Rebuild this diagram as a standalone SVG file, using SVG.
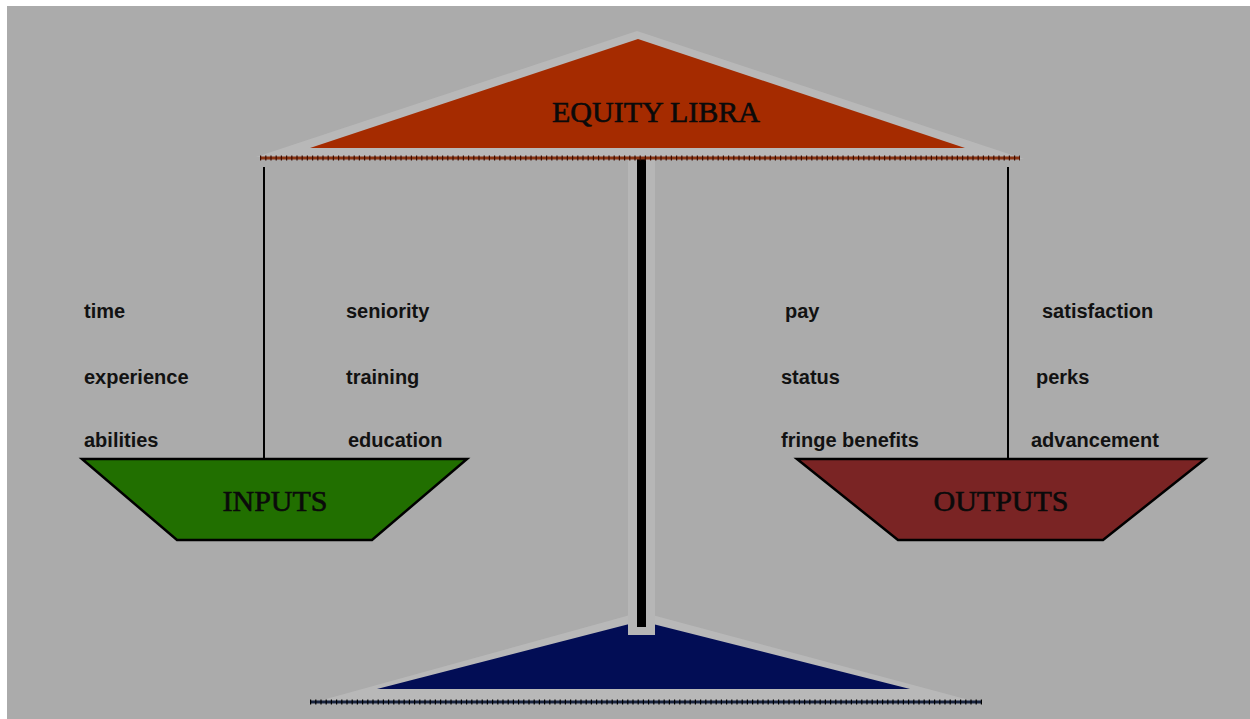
<svg xmlns="http://www.w3.org/2000/svg" width="1250" height="719" viewBox="0 0 1250 719">
  <style>
    .lbl { font-family: "Liberation Sans", Arial, sans-serif; font-weight: bold; font-size: 20px; fill: #121212; }
    .title { font-family: "Liberation Serif", "Times New Roman", serif; font-size: 30px; fill: #0a0a0a; stroke: #0a0a0a; stroke-width: 0.6; text-anchor: middle; }
    .halo { fill: #b8b8b8; }
    .hanger { stroke: #000; stroke-width: 2; }
    .pan { stroke: #000; stroke-width: 2.5; stroke-linejoin: miter; }
  </style>

  <!-- page -->
  <rect x="0" y="0" width="1250" height="719" fill="#ffffff"/>
  <rect x="7" y="6" width="1243" height="713" fill="#ababab"/>

  <!-- base of the scale -->
  <g id="base">
    <polygon class="halo" points="308,704 641,612 984,704"/>
    <polygon points="377,689 641,621 910,689" fill="#020d55"/>
    <line x1="310" y1="702" x2="982" y2="702" stroke="#1a2540" stroke-width="3"/>
    <line x1="310" y1="702" x2="982" y2="702" stroke="#000" stroke-width="5" stroke-dasharray="1.2 4"/>
  </g>

  <!-- central column -->
  <g id="column">
    <rect x="628" y="157" width="27" height="478" fill="#b6b6b6"/>
    <rect x="637" y="157" width="9" height="470" fill="#000"/>
  </g>

  <!-- top bar with title -->
  <g id="equity-libra">
    <polygon class="halo" points="637,31 256,157 1024,159"/>
    <polygon points="638,39 310,148 965,148" fill="#a52b00"/>
    <line x1="260" y1="158" x2="1020" y2="158" stroke="#8a3412" stroke-width="3"/>
    <line x1="260" y1="158" x2="1020" y2="158" stroke="#3c0c00" stroke-width="5" stroke-dasharray="1.2 4"/>
    <text class="title" x="656" y="122">EQUITY LIBRA</text>
  </g>

  <!-- hangers -->
  <g id="connectors">
    <line class="hanger" x1="264" y1="167" x2="264" y2="459"/>
    <line class="hanger" x1="1008" y1="167" x2="1008" y2="459"/>
  </g>

  <!-- left pan -->
  <g id="inputs">
    <polygon class="pan" points="82,459 467,459 372,540 177,540" fill="#216f00"/>
    <text class="title" x="275" y="511">INPUTS</text>
  </g>

  <!-- right pan -->
  <g id="outputs">
    <polygon class="pan" points="797,459 1205,459 1103,540 898,540" fill="#7a2424"/>
    <text class="title" x="1001" y="511">OUTPUTS</text>
  </g>

  <!-- input items -->
  <g id="input-items">
    <text class="lbl" x="84" y="318">time</text>
    <text class="lbl" x="84" y="384">experience</text>
    <text class="lbl" x="84" y="447">abilities</text>
    <text class="lbl" x="346" y="318">seniority</text>
    <text class="lbl" x="346" y="384">training</text>
    <text class="lbl" x="348" y="447">education</text>
  </g>

  <!-- output items -->
  <g id="output-items">
    <text class="lbl" x="785" y="318">pay</text>
    <text class="lbl" x="781" y="384">status</text>
    <text class="lbl" x="781" y="447">fringe benefits</text>
    <text class="lbl" x="1042" y="318">satisfaction</text>
    <text class="lbl" x="1036" y="384">perks</text>
    <text class="lbl" x="1031" y="447">advancement</text>
  </g>
</svg>
